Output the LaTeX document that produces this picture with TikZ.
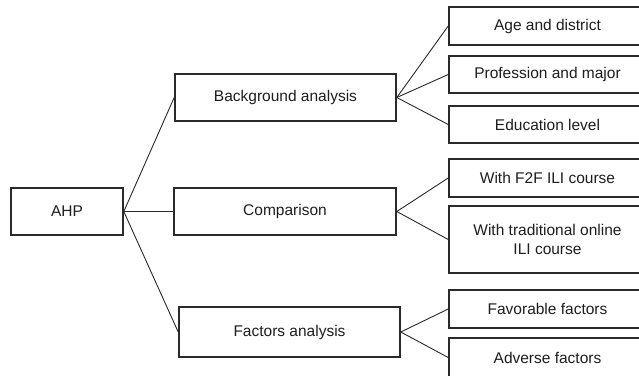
\documentclass[tikz,border=0pt]{standalone}
\usepackage{fontspec}
\setmainfont{Liberation Sans}
\definecolor{ln}{HTML}{2A2A2A}
\definecolor{tx}{HTML}{1E1E1E}
\begin{document}
\begin{tikzpicture}[x=1pt,y=-1pt,
  box/.style={draw=ln,line width=1.6pt,inner sep=0pt,align=center,text=tx,font=\fontsize{15.5}{19}\selectfont},
  conn/.style={draw=ln,line width=0.9pt}]
\useasboundingbox (0,0) rectangle (639,375);
\clip (0,0) rectangle (639,375);
\fill[white] (0,0) rectangle (639,375);
\node[box,minimum width=112pt,minimum height=47pt] (ahp) at (67,211.5) {AHP};
\node[box,minimum width=221pt,minimum height=47pt] (bg) at (285.5,97.5) {Background analysis};
\node[box,minimum width=222pt,minimum height=47pt] (cmp) at (285,211.5) {Comparison};
\node[box,minimum width=221pt,minimum height=50pt] (fac) at (289.5,332) {Factors analysis};
\node[box,minimum width=197pt,minimum height=38pt] (age) at (547.5,26) {Age and district};
\node[box,minimum width=197pt,minimum height=37pt] (prof) at (547.5,74.5) {Profession and major};
\node[box,minimum width=197pt,minimum height=37pt] (edu) at (547.5,124.5) {Education level};
\node[box,minimum width=197pt,minimum height=38pt] (f2f) at (547.5,178) {With F2F ILI course};
\node[box,minimum width=197pt,minimum height=67pt] (trad) at (547.5,239.5) {With traditional online\\ILI course};
\node[box,minimum width=197pt,minimum height=38pt] (fav) at (547.5,309) {Favorable factors};
\node[box,minimum width=197pt,minimum height=39pt] (adv) at (547.5,357.5) {Adverse factors};
\draw[conn] (ahp.east) -- (bg.west);
\draw[conn] (ahp.east) -- (cmp.west);
\draw[conn] (ahp.east) -- (fac.west);
\draw[conn] (bg.east) -- (age.west);
\draw[conn] (bg.east) -- (prof.west);
\draw[conn] (bg.east) -- (edu.west);
\draw[conn] (cmp.east) -- (f2f.west);
\draw[conn] (cmp.east) -- (trad.west);
\draw[conn] (fac.east) -- (fav.west);
\draw[conn] (fac.east) -- (adv.west);
\end{tikzpicture}
\end{document}
